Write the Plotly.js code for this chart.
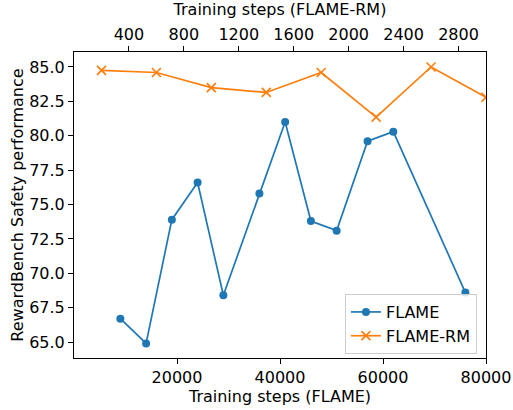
<!DOCTYPE html>
<html>
<head>
<meta charset="utf-8">
<script src="https://cdn.plot.ly/plotly-3.0.1.min.js"></script>
<style>html,body{margin:0;padding:0;background:#fff;}#chart{width:513px;height:410px;}</style>
</head>
<body>
<div id="chart"></div>
<script>
const flameSteps = [9000, 14000, 19000, 24000, 29000, 36000, 41000, 46000, 51000, 57000, 62000, 76000];
const flameScores = [66.7, 64.9, 73.9, 76.6, 68.4, 75.8, 81.0, 73.8, 73.1, 79.6, 80.3, 68.6];
const rmSteps = [200, 600, 1000, 1400, 1800, 2200, 2600, 3000];
const rmScores = [84.75, 84.6, 83.5, 83.15, 84.6, 81.35, 85.0, 82.8];
const bottomTicks = [20000, 40000, 60000, 80000];
const topTicks = [400, 800, 1200, 1600, 2000, 2400, 2800];

const font = {family: 'DejaVu Sans, sans-serif', size: 16, color: '#000'};

const traces = [
  {x: flameSteps, y: flameScores, name: 'FLAME', mode: 'lines+markers', xaxis: 'x', yaxis: 'y',
   line: {color: '#1f77b4', width: 1.7}, marker: {color: '#1f77b4', size: 8, symbol: 'circle'}},
  {x: rmSteps, y: rmScores, name: 'FLAME-RM', mode: 'lines+markers', xaxis: 'x2', yaxis: 'y',
   line: {color: '#ff7f0e', width: 1.7}, marker: {color: '#ff7f0e', size: 9, symbol: 'x-thin-open', line: {color: '#ff7f0e', width: 1.7}}}
];

const layout = {
  width: 513, height: 410,
  margin: {l: 74, r: 27, t: 52, b: 52},
  paper_bgcolor: '#fff', plot_bgcolor: '#fff',
  font: font,
  showlegend: true,
  xaxis: {range: [0, 80000], tickvals: bottomTicks, ticktext: bottomTicks.map(String),
    ticks: 'outside', ticklen: 5, tickwidth: 1, tickcolor: '#000',
    showline: true, linecolor: '#000', linewidth: 1, mirror: true,
    showgrid: false, zeroline: false,
    title: {text: 'Training steps (FLAME)', font: font, standoff: 4}},
  xaxis2: {range: [0, 3000], overlaying: 'x', side: 'top', tickvals: topTicks, ticktext: topTicks.map(String),
    ticks: 'outside', ticklen: 5, tickwidth: 1, tickcolor: '#000',
    showline: false, showgrid: false, zeroline: false,
    title: {text: 'Training steps (FLAME-RM)', font: font, standoff: 4}},
  yaxis: {range: [63.84, 86.09], tick0: 65, dtick: 2.5, tickformat: '.1f',
    ticks: 'outside', ticklen: 5, tickwidth: 1, tickcolor: '#000',
    showline: true, linecolor: '#000', linewidth: 1, mirror: true,
    showgrid: false, zeroline: false,
    title: {text: 'RewardBench Safety performance', font: font, standoff: 1}},
  legend: {x: 0.978, y: 0.013, xanchor: 'right', yanchor: 'bottom',
    bgcolor: 'rgba(255,255,255,0.8)', bordercolor: '#cccccc', borderwidth: 1,
    font: font, tracegroupgap: 0}
};

Plotly.newPlot('chart', traces, layout, {displayModeBar: false, staticPlot: true});
</script>
</body>
</html>
